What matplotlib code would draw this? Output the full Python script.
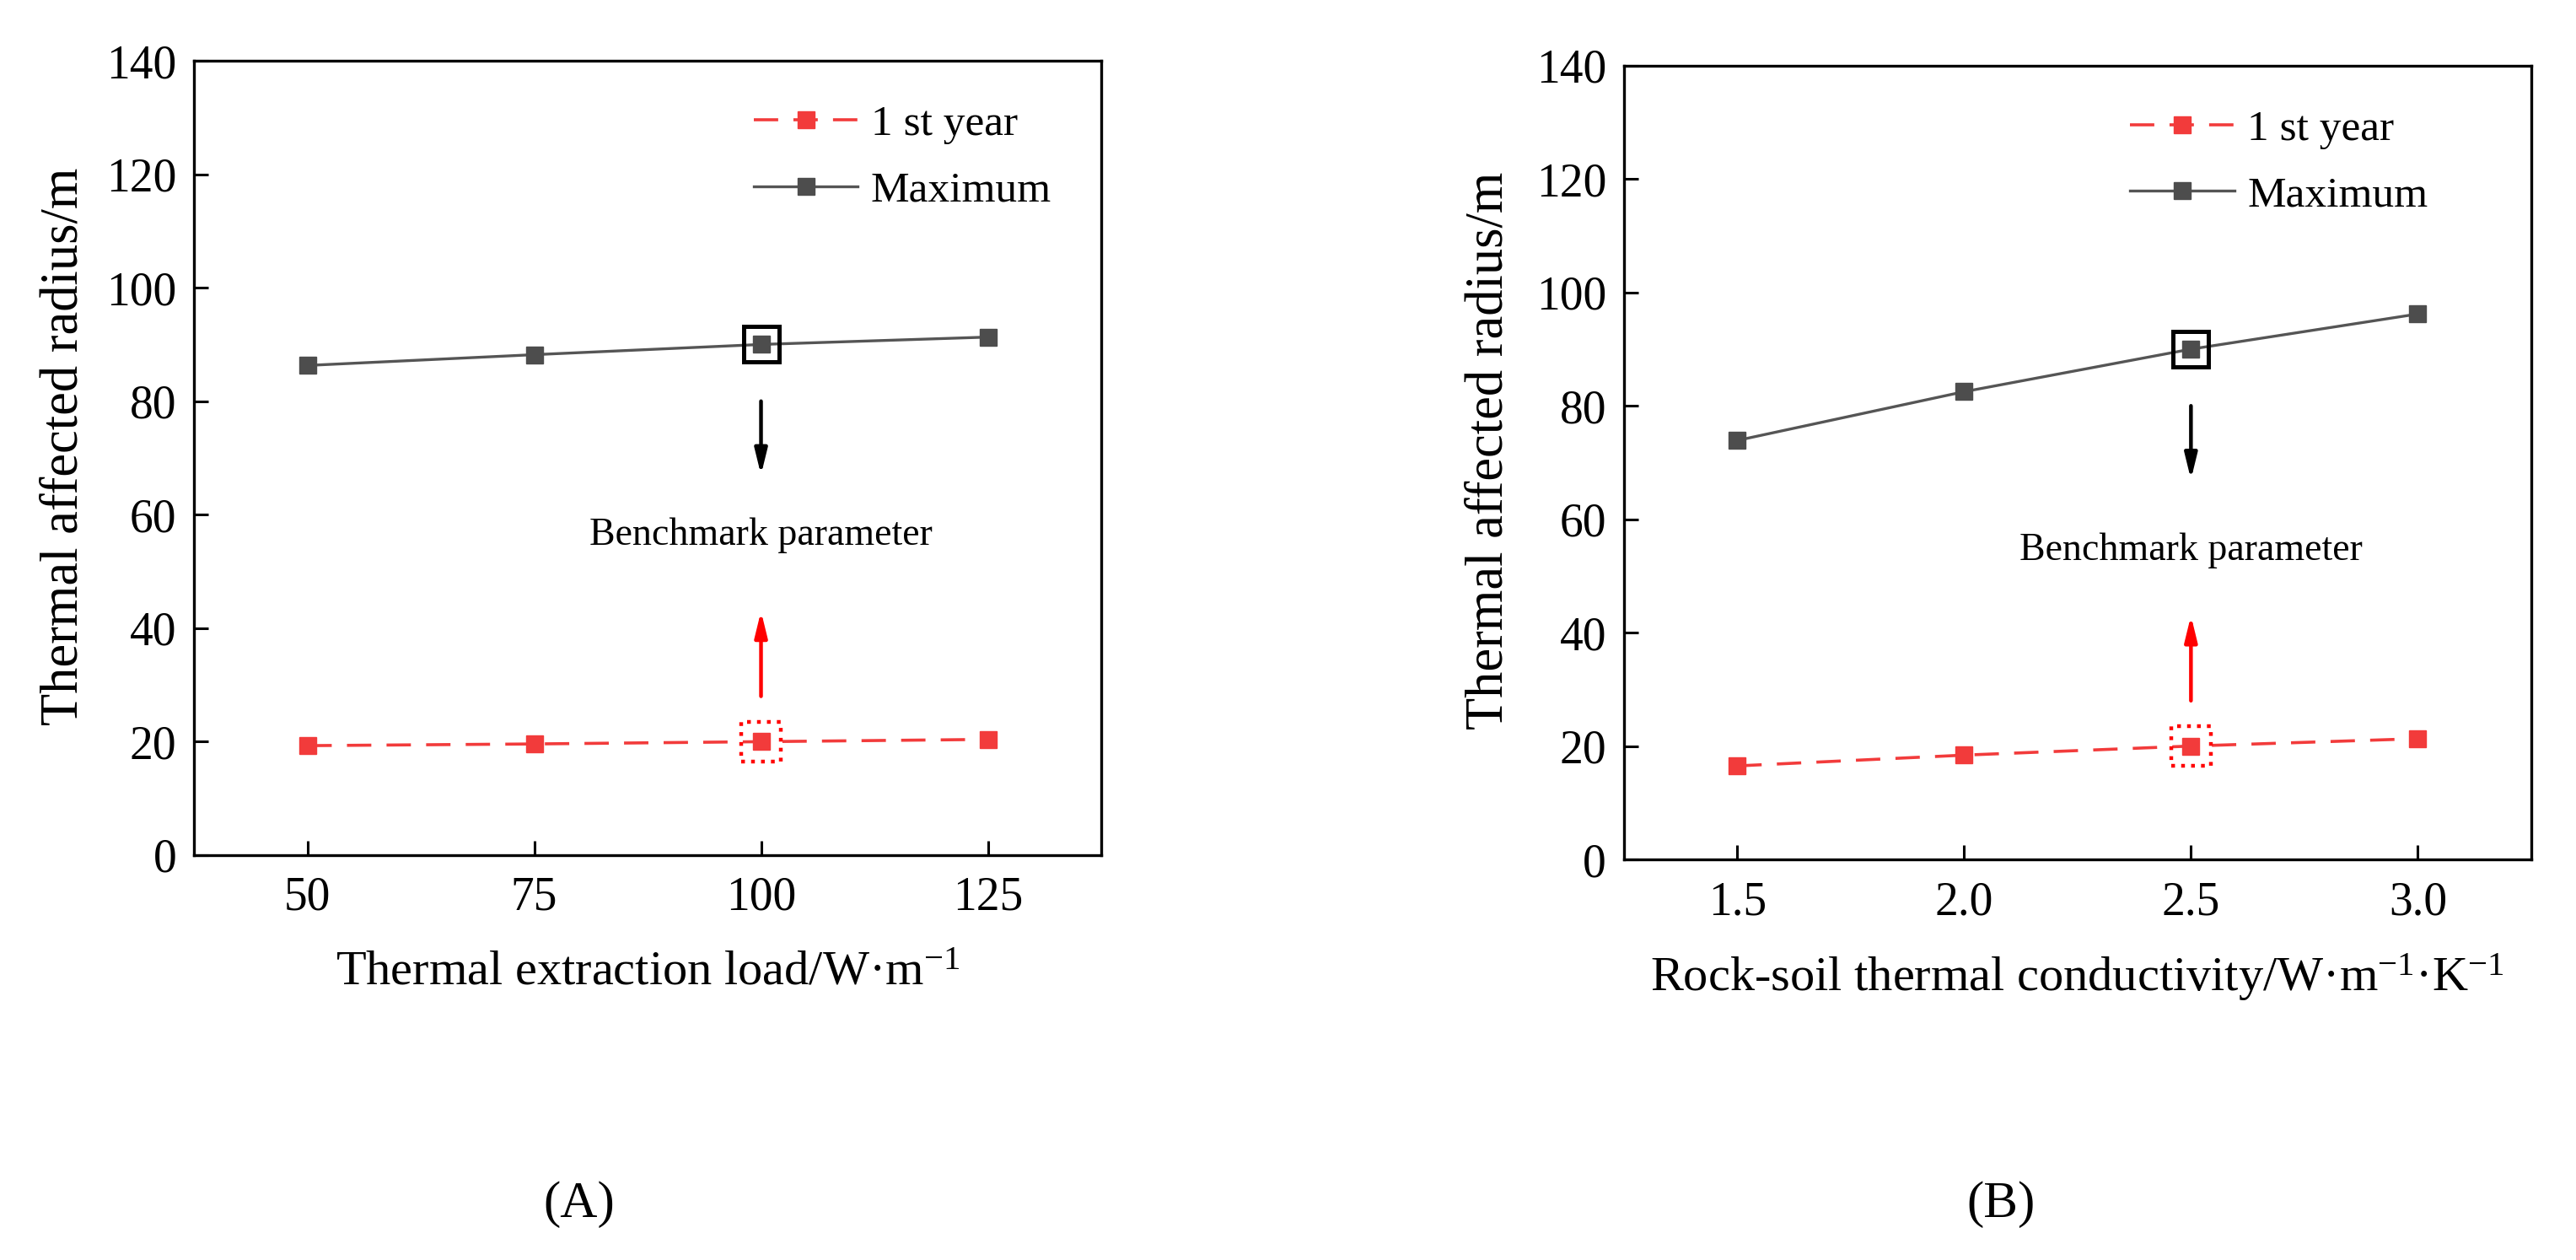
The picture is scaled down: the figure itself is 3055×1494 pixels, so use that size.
import matplotlib
matplotlib.use("Agg")
import matplotlib.pyplot as plt

plt.rcParams["font.family"] = ["Liberation Serif", "DejaVu Serif"]
plt.rcParams["mathtext.fontset"] = "custom"
plt.rcParams["mathtext.rm"] = "Liberation Serif"
plt.rcParams["mathtext.it"] = "Liberation Serif:italic"

# panel A: thermal extraction load
load = [50, 75, 100, 125]
load_first = [19.3, 19.6, 20.0, 20.4]
load_max = [86.3, 88.2, 90.0, 91.3]

# panel B: rock-soil thermal conductivity
cond = [1.5, 2.0, 2.5, 3.0]
cond_first = [16.5, 18.4, 20.0, 21.3]
cond_max = [73.9, 82.5, 90.0, 96.2]

bench_idx = 2                      # benchmark case = third point
arrow_down = (80, 67)              # black arrow from / to (y)
arrow_up = (28, 43)                # red arrow from / to (y)
yticks = [0, 20, 40, 60, 80, 100, 120, 140]

RED = "#f23b3b"
GRAY = "#555555"

fig = plt.figure(figsize=(30.55, 14.94), dpi=100)
axA = fig.add_axes([0.0753, 0.3213, 0.3522, 0.6305])
axB = fig.add_axes([0.6304, 0.3179, 0.3522, 0.6300])


def panel(ax, x, first, mx, xlim, xticks, fmt, xlabel, text_y, leg_x, ylab_x):
    l1, = ax.plot(x, first, color=RED, lw=2.6, dashes=(8, 5), marker="s",
                  ms=14, mfc=RED, mec=RED, label="1 st year")
    l2, = ax.plot(x, mx, color=GRAY, lw=2.4, marker="s", ms=14,
                  mfc="#4d4d4d", mec="#4d4d4d", label="Maximum")
    bx = x[bench_idx]
    # benchmark boxes
    ax.plot([bx], [mx[bench_idx]], marker="s", ms=30, mfc="none", mec="black",
            mew=3.6, ls="none", zorder=6)
    ax.scatter([bx], [first[bench_idx]], marker="s", s=34 ** 2, facecolors="none",
               edgecolors="red", linewidths=3.2, linestyles=":", zorder=6)
    ap = dict(arrowstyle="-|>,head_length=0.9,head_width=0.22", lw=3.2,
              mutation_scale=20, shrinkA=0, shrinkB=0)
    ax.annotate("", xy=(bx, arrow_down[1]), xytext=(bx, arrow_down[0]),
                arrowprops=dict(ap, color="black"))
    ax.annotate("", xy=(bx, arrow_up[1]), xytext=(bx, arrow_up[0]),
                arrowprops=dict(ap, color="red"))
    ax.text(bx, text_y, "Benchmark parameter", ha="center", va="center", fontsize=33)

    ax.set_xlim(*xlim); ax.set_ylim(0, 140)
    ax.set_xticks(xticks); ax.set_yticks(yticks)
    ax.set_xticklabels([fmt % v for v in xticks])
    ax.tick_params(direction="in", length=12, width=2.2, labelsize=40,
                   top=False, right=False)
    ax.tick_params(axis="x", pad=18)
    ax.tick_params(axis="y", pad=15)
    for s in ax.spines.values():
        s.set_linewidth(2.4)
    ax.set_xlabel(xlabel, fontsize=42, va="center")
    ax.xaxis.set_label_coords(0.5, -0.148)
    ax.set_ylabel("Thermal affected radius/m", fontsize=45, va="center")
    ax.yaxis.set_label_coords(ylab_x, 0.515)
    ax.legend(handles=[l1, l2], loc="upper left", bbox_to_anchor=(leg_x, 0.945),
              frameon=False, fontsize=37, handlelength=2.4, handletextpad=0.3,
              labelspacing=0.62, borderpad=0, borderaxespad=0)


panel(axA, load, load_first, load_max, (37.5, 137.5), load, "%d",
      r"Thermal extraction load/W·m$^{\mathrm{-1}}$", 56.3, 0.617, -0.143)
panel(axB, cond, cond_first, cond_max, (1.25, 3.25), cond, "%.1f",
      r"Rock-soil thermal conductivity/W·m$^{\mathrm{-1}}$·K$^{\mathrm{-1}}$", 54.5, 0.558, -0.148)

fig.text(0.2249, 0.0442, "(A)", ha="center", va="center", fontsize=44)
fig.text(0.7768, 0.0442, "(B)", ha="center", va="center", fontsize=44)

fig.savefig("out.png", dpi=100)
